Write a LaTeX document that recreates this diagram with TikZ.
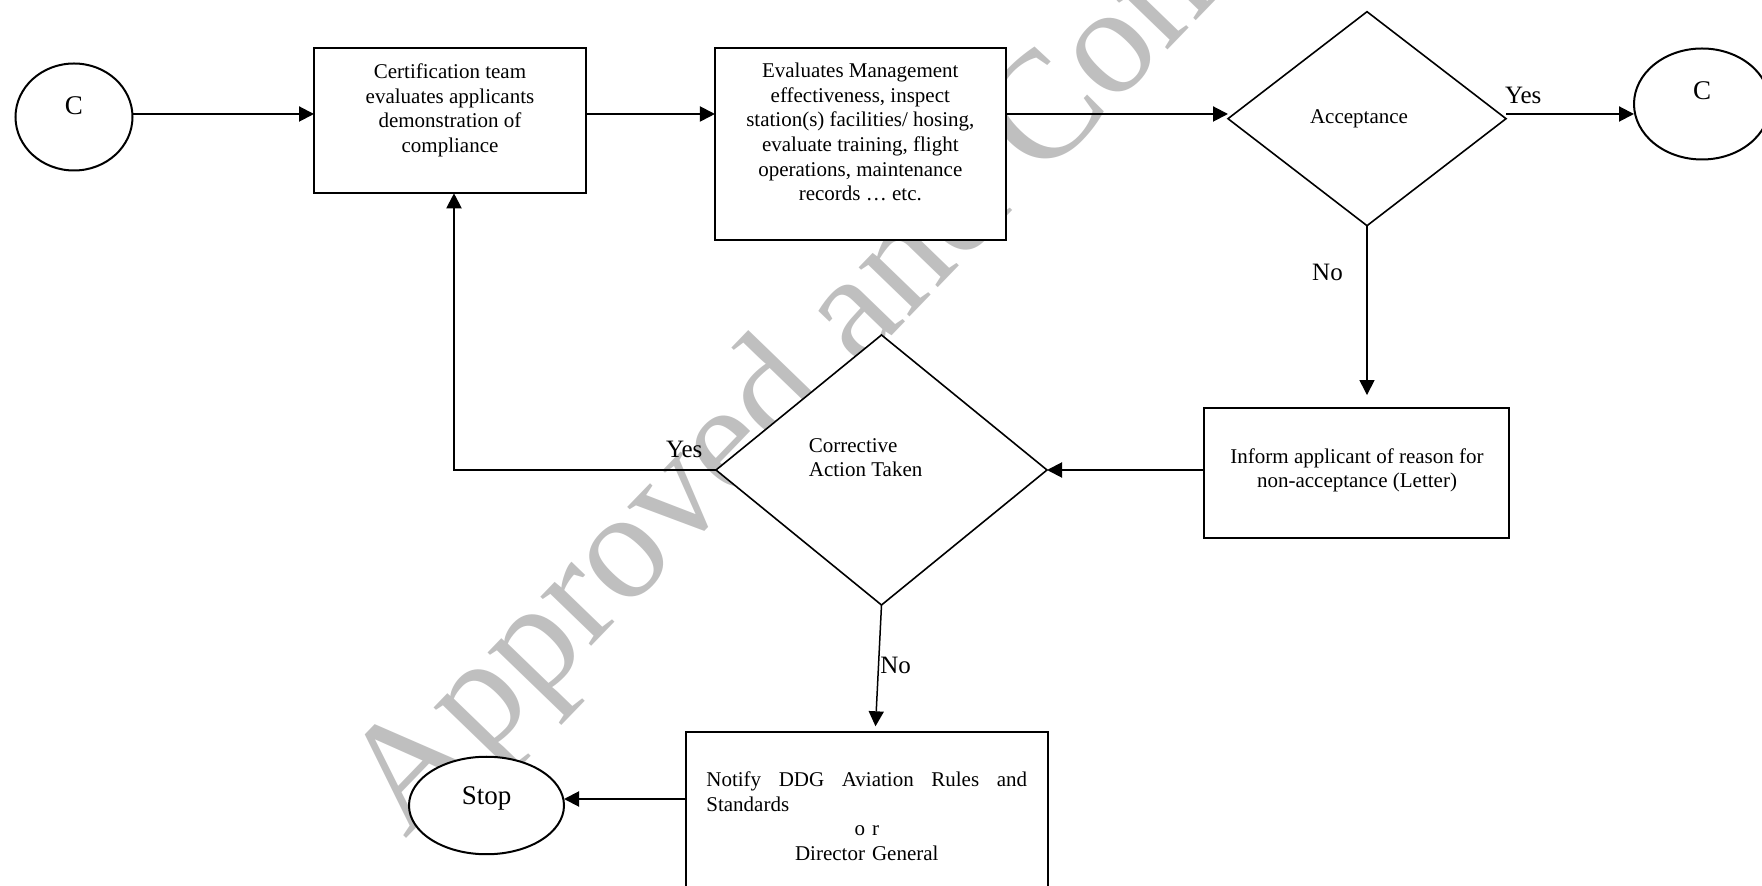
\documentclass[tikz,border=0pt]{standalone}
\usepackage{fontspec}
\setmainfont{Liberation Serif}
\usetikzlibrary{arrows.meta,shapes.geometric}
\begin{document}
\begin{tikzpicture}[x=0.5pt,y=-0.5pt,
  frame/.style={draw=black, fill=white, inner sep=0pt, outer sep=0pt},
  boxnode/.style={frame, rectangle, line width=1.15pt},
  ovalnode/.style={frame, ellipse, line width=1pt},
  decision/.style={frame, diamond, line width=0.8pt},
  flow/.style={line width=1pt, -{Triangle[length=7.5pt,width=7.5pt]}},
  thinflow/.style={flow, line width=0.75pt},
  body/.style={font=\fontsize{10.5pt}{12.35pt}\selectfont, inner sep=0pt, align=center},
  answer/.style={font=\fontsize{12.5pt}{14pt}\selectfont, inner sep=0pt, anchor=base west},
  terminal/.style={font=\fontsize{13.5pt}{16pt}\selectfont, inner sep=0pt, anchor=base},
  stamptext/.style={font=\fontsize{77pt}{86pt}\selectfont, text=black!25, inner sep=0pt}
]
\useasboundingbox (0,0) rectangle (1762,886);
\clip (0,0) rectangle (1762,886);

% background stamp
\node[stamptext, rotate=46, anchor=base west] (stamp) at (405,840) {Approved and Controlled};

% shapes
\node[ovalnode, minimum width=58.5pt, minimum height=53.5pt] (startC) at (74,117) {};
\node[terminal] (startCtext) at (74,115) {C};

\node[boxnode, minimum width=136pt, minimum height=72.5pt] (certify) at (450,120.8) {};
\node[body, anchor=north] (certifytext) at (450,60.7)
  {\strut Certification team\\evaluates applicants\\demonstration of\\compliance};

\node[boxnode, minimum width=145.35pt, minimum height=95.85pt] (evaluate) at (860.3,144.2) {};
\node[body, anchor=north] (evaluatetext) at (860.3,59.7)
  {\strut Evaluates Management\\effectiveness, inspect\\station(s) facilities/ hosing,\\evaluate training, flight\\operations, maintenance\\records … etc.};

\node[decision, minimum width=139pt, minimum height=107pt] (accept) at (1367,118.7) {};
\node[body, anchor=base] (accepttext) at (1359,124) {Acceptance};

\node[ovalnode, minimum width=68pt, minimum height=55.5pt] (endC) at (1702,104) {};
\node[terminal] (endCtext) at (1702,99.3) {C};

\node[decision, minimum width=165.5pt, minimum height=135pt] (corrective) at (881.5,470) {};
\node[body, align=left, anchor=north west] (correctivetext) at (808.5,434.4)
  {\strut Corrective\\Action Taken};

\node[boxnode, minimum width=152.5pt, minimum height=64.85pt] (inform) at (1356.5,472.9) {};
\node[body, anchor=north] (informtext) at (1357,445.4)
  {\strut Inform applicant of reason for\\non-acceptance (Letter)};

\node[boxnode, minimum width=180.85pt, minimum height=80pt] (notify) at (866.9,812.3) {};
\node[body, align=left, text width=160.35pt, anchor=north west] (notifytext) at (706,768.7)
  {\strut Notify \hfill DDG \hfill Aviation \hfill Rules \hfill and\\Standards\\\hfill o r\hfill\null\\\hfill Director General\hfill\null};

\node[ovalnode, minimum width=77.5pt, minimum height=48.75pt] (stop) at (486.5,805.5) {};
\node[terminal] (stoptext) at (486.6,805) {Stop};

% helper points for connector levels
\coordinate (topflow) at (0,114);
\coordinate (backflow) at (0,799);
\coordinate (informtop) at ([yshift=6.5pt]inform.north);
\coordinate (notifyin) at ([xshift=4.3pt,yshift=3pt]notify.north);
\coordinate (certifyin) at ([xshift=2pt]certify.south);

% connectors
\draw[flow] (startC.east |- topflow) -- (certify.west |- topflow);
\draw[flow] (certify.east |- topflow) -- (evaluate.west |- topflow);
\draw[flow] (evaluate.east |- topflow) -- (accept.west |- topflow);
\draw[flow] (accept.east |- topflow) -- (endC.west |- topflow);
\draw[thinflow] (accept.south) -- (accept.south |- informtop);
\draw[flow] (inform.west |- corrective.east) -- (corrective.east);
\draw[flow] (corrective.west) -| (certifyin);
\draw[thinflow] (corrective.south) -- (notifyin);
\draw[flow] (notify.west |- backflow) -- (stop.east |- backflow);

% answer labels
\node[answer] (yesaccept) at (1504.6,104) {Yes};
\node[answer] (noaccept) at (1311.8,281) {No};
\node[answer] (yescorrect) at (665.6,458) {Yes};
\node[answer] (nocorrect) at (880,674) {No};
\end{tikzpicture}
\end{document}
